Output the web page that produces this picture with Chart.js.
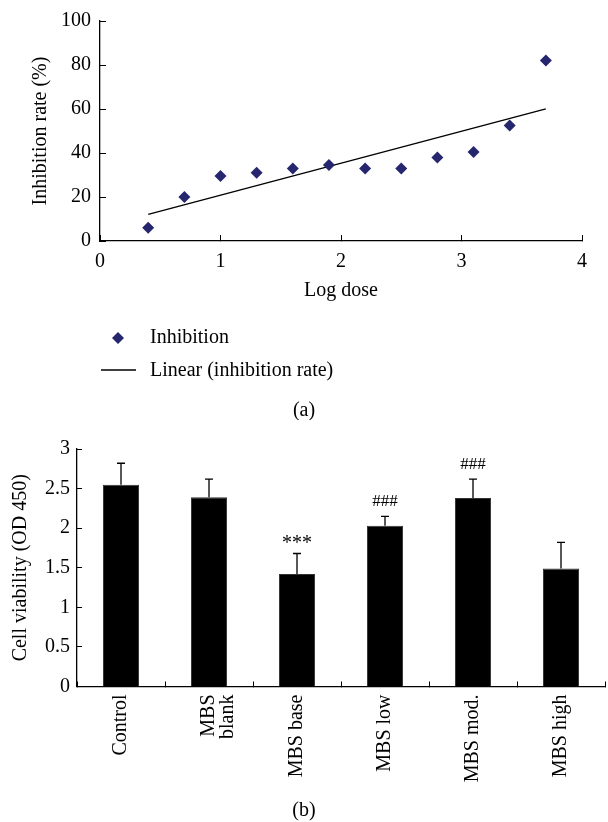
<!DOCTYPE html>
<html>
<head>
<meta charset="utf-8">
<script src="https://cdn.jsdelivr.net/npm/chart.js@4.4.1/dist/chart.umd.min.js"></script>
<style>
  html, body { margin: 0; padding: 0; background: #fff; }
  #top { position: absolute; left: 0; top: 0; width: 608px; height: 420px; }
  #bottom { position: absolute; left: 0; top: 420px; width: 608px; height: 402px; }
</style>
</head>
<body>
<div id="top"><canvas id="graficaDosis"></canvas></div>
<div id="bottom"><canvas id="graficaViabilidad"></canvas></div>
<script>
// datos (a)
const logDose = [0.4, 0.7, 1.0, 1.3, 1.6, 1.9, 2.2, 2.5, 2.8, 3.1, 3.4, 3.7];
const inhibition = [6, 20, 29.5, 31, 33, 34.5, 33, 33, 38, 40.5, 52.5, 82];
const trendX = [0.4, 3.7];
const trendY = [12.1, 60.1];
const xTicks = [0, 1, 2, 3, 4];
const yTicks = [0, 20, 40, 60, 80, 100];

// datos (b)
const groups = ['Control', ['MBS', 'blank'], 'MBS base', 'MBS low', 'MBS mod.', 'MBS high'];
const viability = [2.55, 2.39, 1.42, 2.03, 2.38, 1.49];
const viabilityErr = [0.27, 0.23, 0.26, 0.12, 0.24, 0.33];
const marks = ['', '', '***', '###', '###', ''];
const viabilityTicks = [0, 0.5, 1, 1.5, 2, 2.5, 3];

const SERIF = '"Liberation Serif", "Times New Roman", serif';
Chart.defaults.font.family = SERIF;
Chart.defaults.font.size = 20;
Chart.defaults.color = '#000';

// leyenda y pie de figura (a)
const leyendaPlugin = {
	id: 'leyenda',
	afterDraw(chart) {
		const ctx = chart.ctx;
		const ds = chart.data.datasets;
		ctx.save();
		ctx.fillStyle = ds[0].backgroundColor;
		ctx.beginPath();
		ctx.moveTo(118, 332); ctx.lineTo(124, 338); ctx.lineTo(118, 344); ctx.lineTo(112, 338);
		ctx.closePath();
		ctx.fill();
		ctx.strokeStyle = '#000';
		ctx.lineWidth = 1.3;
		ctx.beginPath();
		ctx.moveTo(101, 370); ctx.lineTo(136, 370);
		ctx.stroke();
		ctx.fillStyle = '#000';
		ctx.font = '20px ' + SERIF;
		ctx.textBaseline = 'middle';
		ctx.textAlign = 'left';
		ctx.fillText(ds[0].label, 150, 338);
		ctx.fillText(ds[1].label, 150, 371);
		ctx.textAlign = 'center';
		ctx.fillText('(a)', 304, 411);
		ctx.restore();
	}
};

new Chart(document.getElementById('graficaDosis').getContext('2d'), {
	type: 'scatter',
	data: {
		datasets: [{
			label: 'Inhibition',
			data: logDose.map((x, i) => ({ x: x, y: inhibition[i] })),
			pointStyle: 'rectRot',
			pointRadius: 6,
			pointHoverRadius: 6,
			backgroundColor: '#26266e',
			borderColor: '#26266e',
			borderWidth: 0
		}, {
			label: 'Linear (inhibition rate)',
			type: 'line',
			data: trendX.map((x, i) => ({ x: x, y: trendY[i] })),
			borderColor: '#000',
			borderWidth: 1.3,
			pointRadius: 0,
			fill: false
		}]
	},
	options: {
		responsive: true,
		maintainAspectRatio: false,
		animation: false,
		layout: { padding: { left: 0, right: 26, top: 21, bottom: 120 } },
		plugins: { legend: { display: false }, tooltip: { enabled: false } },
		scales: {
			x: {
				type: 'linear', min: 0, max: 4,
				afterBuildTicks: s => { s.ticks = xTicks.map(v => ({ value: v })); },
				afterFit: s => { s.height = 59; },
				grid: { drawOnChartArea: false, drawTicks: true, tickLength: -6, color: '#000' },
				border: { color: '#000', width: 1.3 },
				ticks: { padding: 15, maxRotation: 0 },
				title: { display: true, text: 'Log dose', padding: { top: 0, bottom: -3 } }
			},
			y: {
				type: 'linear', min: 0, max: 100,
				afterBuildTicks: s => { s.ticks = yTicks.map(v => ({ value: v })); },
				afterFit: s => { s.width = 100; s.paddingTop = 0; s.paddingBottom = 0; },
				grid: { drawOnChartArea: false, drawTicks: true, tickLength: -6, color: '#000' },
				border: { color: '#000', width: 1.3 },
				ticks: { padding: 15 },
				title: { display: true, text: 'Inhibition rate (%)', padding: { top: 29, bottom: 0 } }
			}
		}
	},
	plugins: [leyendaPlugin]
});

// barras de error, marcas y pie de figura (b)
const errorPlugin = {
	id: 'errores',
	afterDatasetsDraw(chart) {
		const ctx = chart.ctx;
		const meta = chart.getDatasetMeta(0);
		const y = chart.scales.y;
		ctx.save();
		ctx.strokeStyle = '#000';
		ctx.lineWidth = 1.3;
		ctx.fillStyle = '#000';
		meta.data.forEach((bar, i) => {
			const yTop = y.getPixelForValue(viability[i] + viabilityErr[i]);
			ctx.beginPath();
			ctx.moveTo(bar.x, bar.y);
			ctx.lineTo(bar.x, yTop);
			ctx.moveTo(bar.x - 4, yTop);
			ctx.lineTo(bar.x + 4, yTop);
			ctx.stroke();
			if (marks[i]) {
				ctx.font = (marks[i] === '***' ? '20px ' : '17px ') + SERIF;
				ctx.textAlign = 'center';
				ctx.textBaseline = 'middle';
				ctx.fillText(marks[i], bar.x, yTop - (marks[i] === '***' ? 10 : 15));
			}
		});
		ctx.font = '20px ' + SERIF;
		ctx.textAlign = 'center';
		ctx.textBaseline = 'middle';
		ctx.fillText('(b)', 304, 391);
		ctx.restore();
	}
};

new Chart(document.getElementById('graficaViabilidad').getContext('2d'), {
	type: 'bar',
	data: {
		labels: groups,
		datasets: [{
			label: 'Cell viability',
			data: viability,
			backgroundColor: '#000',
			borderColor: '#333',
			borderWidth: 1,
			categoryPercentage: 1,
			barPercentage: 0.41
		}]
	},
	options: {
		responsive: true,
		maintainAspectRatio: false,
		animation: false,
		layout: { padding: { left: 0, right: 3, top: 29, bottom: 0 } },
		plugins: { legend: { display: false }, tooltip: { enabled: false } },
		scales: {
			x: {
				afterFit: s => { s.height = 402 - 29 - 237.5; },
				grid: { drawOnChartArea: false, drawTicks: true, tickLength: -5, color: '#000', offset: true },
				border: { color: '#000', width: 1.3 },
				ticks: { padding: 13, minRotation: 90, maxRotation: 90, autoSkip: false, font: { lineHeight: 0.95 } }
			},
			y: {
				min: 0, max: 3,
				afterBuildTicks: s => { s.ticks = viabilityTicks.map(v => ({ value: v })); },
				afterFit: s => { s.width = 77; s.paddingTop = 0; s.paddingBottom = 0; },
				grid: { drawOnChartArea: false, drawTicks: true, tickLength: -5, color: '#000' },
				border: { color: '#000', width: 1.3 },
				ticks: { padding: 12, callback: v => String(v) },
				title: { display: true, text: 'Cell viability (OD 450)', padding: { top: 9, bottom: 0 } }
			}
		}
	},
	plugins: [errorPlugin]
});
</script>
</body>
</html>
